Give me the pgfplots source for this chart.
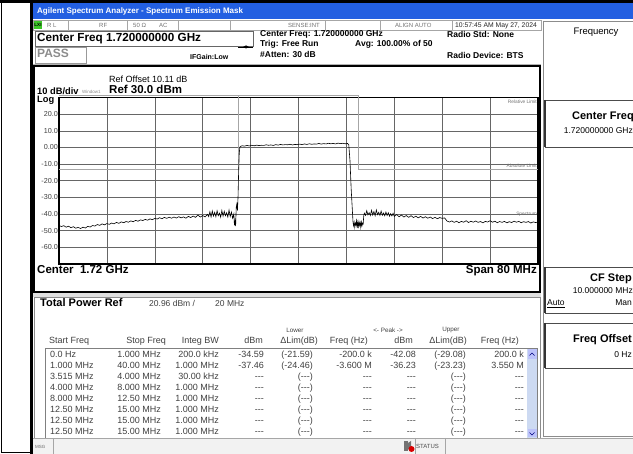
\documentclass[border=0pt]{standalone}
\usepackage{pgfplots}
\pgfplotsset{compat=1.18}
\usepackage{pgfplotstable}
\usepackage{fontspec}
\setmainfont{Liberation Sans}
\newcommand{\fs}[1]{\fontsize{#1}{#1}\selectfont}
\newcommand{\dsh}{-{}-{}-}
\definecolor{xpblue}{RGB}{35,95,225}
\definecolor{sbblue}{RGB}{205,218,242}
\definecolor{lxigreen}{RGB}{60,200,40}

\pgfplotstableread{
x y
-40.0 -46.8
-39.6 -47.5
-39.2 -47.0
-38.8 -47.9
-38.4 -47.3
-38.0 -48.2
-37.6 -47.6
-37.2 -48.5
-36.8 -48.0
-36.4 -48.7
-36.0 -47.9
-35.6 -48.4
-35.2 -47.4
-34.8 -47.8
-34.4 -46.9
-34.0 -47.2
-33.6 -46.3
-33.2 -46.8
-32.8 -45.9
-32.4 -46.5
-32.0 -45.7
-31.6 -46.2
-31.2 -45.4
-30.8 -45.9
-30.4 -45.0
-30.0 -45.6
-29.6 -44.7
-29.2 -45.2
-28.8 -44.5
-28.4 -44.9
-28.0 -44.1
-27.6 -44.6
-27.2 -43.8
-26.8 -44.3
-26.4 -43.5
-26.0 -43.9
-25.6 -43.2
-25.2 -43.7
-24.8 -42.9
-24.4 -43.4
-24.0 -42.6
-23.6 -43.0
-23.2 -42.2
-22.8 -42.8
-22.4 -42.0
-22.0 -42.6
-21.6 -41.9
-21.2 -42.5
-20.8 -41.8
-20.4 -42.4
-20.0 -41.6
-19.6 -42.3
-19.2 -41.7
-18.8 -42.5
-18.4 -41.4
-18.0 -42.1
-17.6 -41.2
-17.2 -42.0
-16.8 -40.6
-16.4 -41.8
-16.0 -40.9
-15.6 -41.7
-15.2 -40.2
-15.0 -41.5
-14.8 -38.6
-14.6 -41.8
-14.4 -38.2
-14.2 -41.2
-14.0 -39.0
-13.8 -41.6
-13.6 -38.0
-13.4 -41.0
-13.2 -39.5
-13.0 -41.9
-12.8 -37.8
-12.6 -41.3
-12.4 -38.4
-12.2 -41.0
-12.0 -39.2
-11.8 -41.8
-11.6 -37.6
-11.4 -41.5
-11.2 -38.8
-11.0 -42.5
-10.8 -40.0
-10.7 -46.8
-10.6 -44.0
-10.5 -47.2
-10.4 -36.0
-10.3 -34.0
-10.2 -38.0
-10.1 -30.0
-10.0 -15.0
-9.9 -4.0
-9.8 0.2
-9.6 0.8
-9.4 1.0
-9.0 0.8
-8.6 1.2
-8.2 0.9
-7.8 1.3
-7.4 1.0
-7.0 1.4
-6.6 1.1
-6.2 1.3
-5.8 1.2
-5.4 1.6
-5.0 1.3
-4.6 1.5
-4.2 1.2
-3.8 1.7
-3.4 1.4
-3.0 1.8
-2.6 1.5
-2.2 1.7
-1.8 1.6
-1.4 1.9
-1.0 1.5
-0.6 1.8
-0.2 1.7
0.2 2.0
0.6 1.7
1.0 2.1
1.4 1.8
1.8 2.2
2.2 1.9
2.6 2.1
3.0 2.0
3.4 2.4
3.8 2.0
4.2 2.3
4.6 2.1
5.0 2.5
5.4 2.2
5.8 2.4
6.2 2.1
6.6 2.6
7.0 2.3
7.4 2.5
7.8 2.2
8.2 2.4
8.4 1.5
8.6 -8.0
8.8 -25.0
9.0 -38.0
9.1 -44.5
9.2 -47.0
9.3 -45.0
9.4 -48.0
9.5 -45.5
9.6 -46.5
9.7 -44.0
9.8 -48.5
9.9 -45.0
10.0 -47.5
10.1 -44.5
10.2 -46.8
10.3 -45.2
10.4 -48.0
10.5 -44.8
10.6 -47.0
10.7 -45.5
10.8 -46.0
10.9 -41.0
11.0 -39.5
11.2 -40.8
11.4 -38.0
11.6 -40.5
11.8 -39.2
12.0 -40.9
12.2 -37.8
12.4 -40.6
12.6 -38.5
12.8 -41.0
13.0 -37.6
13.2 -40.4
13.4 -39.0
13.6 -40.8
13.8 -38.2
14.0 -40.7
14.2 -39.4
14.4 -41.0
14.6 -38.8
14.8 -40.9
15.0 -39.2
15.2 -41.3
15.4 -39.8
15.6 -41.1
15.8 -39.5
16.0 -41.4
16.4 -40.3
16.8 -41.6
17.2 -40.6
17.6 -41.8
18.0 -40.9
18.4 -42.0
18.8 -41.0
19.2 -42.1
19.6 -41.3
20.0 -42.3
20.4 -41.4
20.8 -42.4
21.2 -41.6
21.6 -42.5
22.0 -41.8
22.4 -42.7
22.8 -42.0
23.2 -42.8
23.6 -42.1
24.0 -42.6
24.4 -42.3
24.8 -44.2
25.2 -44.8
25.6 -44.1
26.0 -45.0
26.4 -44.3
26.8 -45.2
27.2 -44.4
27.6 -44.9
28.0 -44.0
28.4 -45.1
28.8 -44.3
29.2 -44.9
29.6 -44.2
30.0 -45.0
30.4 -44.5
30.8 -45.3
31.2 -44.4
31.6 -44.8
32.0 -44.0
32.4 -44.9
32.8 -44.3
33.2 -45.2
33.6 -44.5
34.0 -45.0
34.4 -44.4
34.8 -45.3
35.2 -44.6
35.6 -45.1
36.0 -44.3
36.4 -44.9
36.8 -44.4
37.2 -45.2
37.6 -44.6
38.0 -45.0
38.4 -44.5
38.8 -45.4
39.2 -44.7
39.6 -45.1
40.0 -44.8
}\trace

\begin{document}
\begin{tikzpicture}
\begin{scope}[x=1pt,y=-1pt]
\useasboundingbox (0,0) rectangle (633,454);
\fill[white] (0,0) rectangle (633,454);
% outer frame
\fill[black] (0,0) rectangle (633,3);
\fill[black] (30,3) rectangle (33,454);
\draw[black,line width=1pt] (1,3) -- (1,453) -- (30,453);
% title bar
\fill[xpblue] (33,3) rectangle (633,19);
\node[anchor=mid west,inner sep=0,text=white,font=\fs{8}\bfseries] at (37,11) {Agilent Spectrum Analyzer - Spectrum Emission Mask};
% status row
\draw[black!35,line width=0.5pt] (33,20) rectangle (541,30);
\foreach \xx in {68,127,178,230,325,380,452}{\draw[black!35,line width=0.5pt] (\xx,20) -- (\xx,30);}
\fill[lxigreen] (34,21) rectangle (42,29);
\node[inner sep=0,font=\fs{4.5}\bfseries] at (38,25) {LXI};
\node[anchor=mid west,inner sep=0,text=black!55,font=\fs{6}] at (47,25) {R L};
\node[anchor=mid west,inner sep=0,text=black!55,font=\fs{6}] at (99,25) {RF};
\node[anchor=mid west,inner sep=0,text=black!55,font=\fs{6}] at (133,25) {50 Ω};
\node[anchor=mid west,inner sep=0,text=black!55,font=\fs{6}] at (159,25) {AC};
\node[anchor=mid west,inner sep=0,text=black!55,font=\fs{6}] at (288,25) {SENSE:INT};
\node[anchor=mid west,inner sep=0,text=black!55,font=\fs{6}] at (395,25) {ALIGN AUTO};
\node[anchor=mid west,inner sep=0,text=black!85,font=\fs{6.8}] at (455,25) {10:57:45 AM May 27, 2024};
% center freq and pass boxes
\draw[black!60,line width=0.6pt] (35,31) rectangle (253,46);
\node[anchor=mid west,inner sep=0,font=\fs{11.7}\bfseries] at (37,38.5) {Center Freq 1.720000000 GHz};
\draw[black!40,line width=0.6pt] (35,47) rectangle (86,63);
\node[anchor=mid west,inner sep=0,text=black!45,font=\fs{12}\bfseries] at (37,55) {PASS};
\node[anchor=mid west,inner sep=0,font=\fs{7}\bfseries] at (190,57) {IFGain:Low};
\draw[line width=0.6pt] (238,47) -- (253,47);
\fill (243,47) -- (246,45.5) -- (246,48.5) -- cycle;
\fill (249,47) -- (246,45.5) -- (246,48.5) -- cycle;
\node[anchor=mid west,inner sep=0,font=\fs{8.5}\bfseries] at (260,34) {Center Freq: 1.720000000 GHz};
\node[anchor=mid west,inner sep=0,font=\fs{8.5}\bfseries] at (260,44) {Trig: Free Run};
\node[anchor=mid west,inner sep=0,font=\fs{8.5}\bfseries] at (260,55) {\#Atten: 30 dB};
\node[anchor=mid west,inner sep=0,font=\fs{8.5}\bfseries] at (355,44) {Avg: 100.00\% of 50};
\node[anchor=mid west,inner sep=0,font=\fs{8.5}\bfseries] at (447,35) {Radio Std: None};
\node[anchor=mid west,inner sep=0,font=\fs{8.5}\bfseries] at (447,56) {Radio Device: BTS};
% graph panel
\draw[black!30,line width=0.8pt] (33,64) -- (541,64);
\draw[black,line width=2pt] (34,66) rectangle (540,292);
\node[anchor=mid west,inner sep=0,font=\fs{9}] at (109,80) {Ref Offset 10.11 dB};
\node[anchor=mid west,inner sep=0,font=\fs{9.3}\bfseries] at (37,91.5) {10 dB/div};
\node[anchor=mid west,inner sep=0,text=black!45,font=\fs{4.5}] at (82,91) {Window1};
\node[anchor=mid west,inner sep=0,font=\fs{11.5}\bfseries] at (109,90.5) {Ref 30.0 dBm};
\node[anchor=mid west,inner sep=0,font=\fs{9.3}\bfseries] at (37,100) {Log};
\node[anchor=mid west,inner sep=0,font=\fs{11.5}\bfseries] at (37,271) {Center\ \ 1.72 GHz};
\node[anchor=mid east,inner sep=0,font=\fs{11.5}\bfseries] at (537,271) {Span 80 MHz};
% table panel
\fill[black!12] (33,293) rectangle (541,297);
\draw[black!45,line width=0.6pt] (34,297) rectangle (540,438);
\node[anchor=mid west,inner sep=0,font=\fs{11}\bfseries] at (40,304) {Total Power Ref};
\node[anchor=mid west,inner sep=0,text=black!75,font=\fs{8.5}] at (149,304) {20.96 dBm /};
\node[anchor=mid west,inner sep=0,text=black!75,font=\fs{8.5}] at (215,304) {20 MHz};
\node[inner sep=0,text=black!75,font=\fs{6.3}] at (295,330) {Lower};
\node[inner sep=0,text=black!75,font=\fs{6.3}] at (388,330) {<- Peak ->};
\node[inner sep=0,text=black!75,font=\fs{6.3}] at (451,330) {Upper};
\begin{scope}[every node/.style={inner sep=0,text=black!75,font=\fs{9}}]
\node[anchor=mid west] at (49,340.5) {Start Freq};
\node[anchor=mid east] at (166,340.5) {Stop Freq};
\node[anchor=mid east] at (219,340.5) {Integ BW};
\node[anchor=mid east] at (263,340.5) {dBm};
\node[anchor=mid east] at (318,340.5) {ΔLim(dB)};
\node[anchor=mid east] at (368,340.5) {Freq (Hz)};
\node[anchor=mid east] at (413,340.5) {dBm};
\node[anchor=mid east] at (467,340.5) {ΔLim(dB)};
\node[anchor=mid east] at (519,340.5) {Freq (Hz)};
\end{scope}
\draw[black!50,line width=0.6pt] (45,348) rectangle (537,438);
\fill[sbblue] (527,349) rectangle (537,438);
\fill[sbblue!70!blue!60!white] (527.5,349.5) rectangle (536.5,359);
\fill[sbblue!70!blue!60!white] (527.5,429) rectangle (536.5,437.5);
\draw[blue!50!black,line width=0.7pt] (529.5,355.5) -- (532,353) -- (534.5,355.5);
\draw[blue!50!black,line width=0.7pt] (529.5,432.5) -- (532,435) -- (534.5,432.5);
\begin{scope}
\clip (45,348) rectangle (527,437);
\foreach \yy/\a/\b/\c/\d/\e/\f/\g/\h/\i in {
355/0.0 Hz/1.000 MHz/200.0 kHz/-34.59/(-21.59)/-200.0 k/-42.08/(-29.08)/200.0 k,
366/1.000 MHz/40.00 MHz/1.000 MHz/-37.46/(-24.46)/-3.600 M/-36.23/(-23.23)/3.550 M,
377/3.515 MHz/4.000 MHz/30.00 kHz/\dsh/(\dsh)/\dsh/\dsh/(\dsh)/\dsh,
388/4.000 MHz/8.000 MHz/1.000 MHz/\dsh/(\dsh)/\dsh/\dsh/(\dsh)/\dsh,
399/8.000 MHz/12.50 MHz/1.000 MHz/\dsh/(\dsh)/\dsh/\dsh/(\dsh)/\dsh,
410/12.50 MHz/15.00 MHz/1.000 MHz/\dsh/(\dsh)/\dsh/\dsh/(\dsh)/\dsh,
421/12.50 MHz/15.00 MHz/1.000 MHz/\dsh/(\dsh)/\dsh/\dsh/(\dsh)/\dsh,
432/12.50 MHz/15.00 MHz/1.000 MHz/\dsh/(\dsh)/\dsh/\dsh/(\dsh)/\dsh}{
\node[anchor=mid west,inner sep=0,text=black!75,font=\fs{9}] at (50,\yy) {\a};
\node[anchor=mid east,inner sep=0,text=black!75,font=\fs{9}] at (161,\yy) {\b};
\node[anchor=mid east,inner sep=0,text=black!75,font=\fs{9}] at (219,\yy) {\c};
\node[anchor=mid east,inner sep=0,text=black!75,font=\fs{9}] at (264,\yy) {\d};
\node[anchor=mid east,inner sep=0,text=black!75,font=\fs{9}] at (313,\yy) {\e};
\node[anchor=mid east,inner sep=0,text=black!75,font=\fs{9}] at (372,\yy) {\f};
\node[anchor=mid east,inner sep=0,text=black!75,font=\fs{9}] at (416,\yy) {\g};
\node[anchor=mid east,inner sep=0,text=black!75,font=\fs{9}] at (466,\yy) {\h};
\node[anchor=mid east,inner sep=0,text=black!75,font=\fs{9}] at (524,\yy) {\i};
}
\end{scope}
% bottom bar
\fill[black!5] (33,438) rectangle (633,454);
\draw[black!35,line width=0.5pt] (33,438) -- (633,438);
\foreach \xx in {53,415,445}{\draw[black!35,line width=0.5pt] (\xx,438) -- (\xx,454);}
\node[anchor=mid west,inner sep=0,text=black!60,font=\fs{4.5}] at (35,446) {MSG};
\fill[black!55] (404,441) rectangle (408,451);
\fill[black!55] (408,443) -- (411,441) -- (411,451) -- (408,449) -- cycle;
\fill[red!85!black] (411.5,449) circle (3);
\node[anchor=mid west,inner sep=0,text=black!70,font=\fs{6}] at (416,446) {STATUS};
% right panel
\draw[black!45,line width=0.6pt] (543,21) -- (543,436) -- (633,436);
\draw[black!45,line width=0.6pt] (543,21) -- (633,21);
\node[inner sep=0,font=\fs{9.5}] at (596,32) {Frequency};
\foreach \ya/\yb in {100/147,267/313,323/368}{
\draw[black!70,line width=0.8pt] (633,\ya) -- (545,\ya) -- (545,\yb) -- (633,\yb);
\draw[black!80,line width=1.6pt] (545,\ya) -- (545,\yb);
}
\node[anchor=mid east,inner sep=0,font=\fs{11}\bfseries] at (634,117) {Center Freq};
\node[anchor=mid east,inner sep=0,font=\fs{8.5}] at (633,131) {1.720000000 GHz};
\node[anchor=mid east,inner sep=0,font=\fs{11}\bfseries] at (632,279) {CF Step};
\node[anchor=mid east,inner sep=0,font=\fs{8.5}] at (633,291) {10.000000 MHz};
\node[anchor=mid west,inner sep=0,font=\fs{8.5}] at (547,303) {\underline{Auto}};
\node[anchor=mid east,inner sep=0,font=\fs{8.5}] at (632,303) {Man};
\node[anchor=mid east,inner sep=0,font=\fs{11}\bfseries] at (632,340) {Freq Offset};
\node[anchor=mid east,inner sep=0,font=\fs{8.5}] at (632,355) {0 Hz};
\end{scope}

\begin{axis}[
  at={(59pt,-264pt)}, anchor=south west,
  width=479pt, height=166.5pt, scale only axis,
  xmin=-40, xmax=40, ymin=-70, ymax=30,
  xtick={-32,-24,...,32}, xticklabels={},
  ytick={-60,-50,...,20},
  yticklabels={-60.0,-50.0,-40.0,-30.0,-20.0,-10.0,0.00,10.0,20.0},
  grid=major, major grid style={black!60,line width=0.5pt},
  major tick length=0pt,
  axis line style={black,line width=1.2pt},
  yticklabel style={font=\fs{7.2},text=black!75,inner sep=1pt},
  /pgf/number format/assume math mode=true,
  clip=false, axis on top=false,
]
\addplot[black!35,line width=0.8pt] coordinates {(-40,-13) (-10,-13) (-10,31.5)};
\addplot[black!35,line width=0.8pt] coordinates {(-40,31.5) (10,31.5) (10,-13) (40,-13)};
\addplot[black,line width=0.6pt] table[x=x,y=y] {\trace};
\node[anchor=north east,inner sep=1pt,text=black!55,font=\fs{4.8}] at (axis cs:40,29.5) {Relative Limit};
\node[anchor=south east,inner sep=1pt,text=black!55,font=\fs{4.8}] at (axis cs:40,-12.5) {Absolute Limit};
\node[anchor=south east,inner sep=1pt,text=black!55,font=\fs{4.8}] at (axis cs:40,-42) {Spectrum};
\end{axis}
\end{tikzpicture}
\end{document}
